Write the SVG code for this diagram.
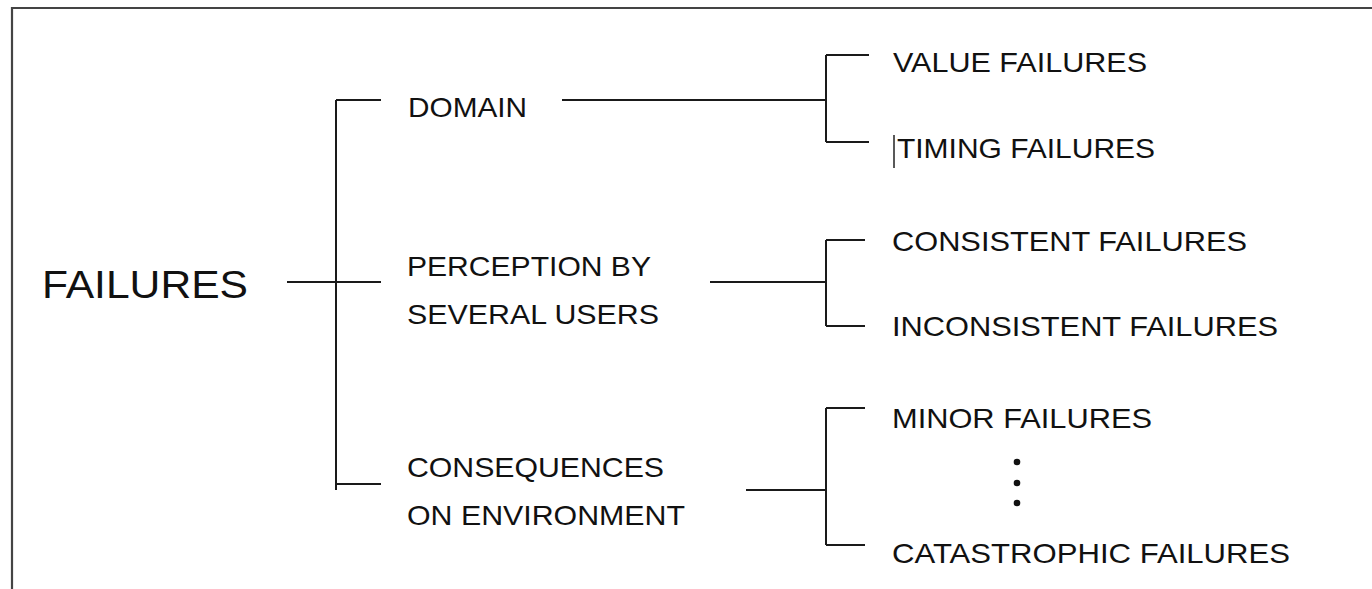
<svg xmlns="http://www.w3.org/2000/svg" width="1372" height="589" viewBox="0 0 1372 589">
<style>
.t{font-family:"Liberation Sans",Arial,sans-serif;font-size:28px;fill:#111}
.big{font-size:38px}
.ln{stroke:#1a1a1a;stroke-width:2;fill:none}
</style>
<rect width="1372" height="589" fill="#fff"/>
<path d="M12,592 V8 H1375" fill="none" stroke="#444" stroke-width="2.2"/>
<g id="connectors" class="ln">
<path d="M287,282 H381 M336,100 V490 M336,100 H381 M336,484 H381"/>
<path d="M562,100 H826 M826,55 V142 M826,55 H869 M826,142 H869"/>
<path d="M710,282 H826 M826,240 V326 M826,240 H865 M826,326 H865"/>
<path d="M746,490 H826 M826,408 V545 M826,408 H865 M826,545 H865"/>
</g>
<g id="n-failures"><text class="t big" x="42" y="298" textLength="206" lengthAdjust="spacingAndGlyphs">FAILURES</text></g>
<g id="n-domain"><text class="t" x="408" y="117" textLength="119" lengthAdjust="spacingAndGlyphs">DOMAIN</text></g>
<g id="n-perception"><text class="t" x="407" y="276" textLength="244" lengthAdjust="spacingAndGlyphs">PERCEPTION BY</text><text class="t" x="407" y="324" textLength="252" lengthAdjust="spacingAndGlyphs">SEVERAL USERS</text></g>
<g id="n-consequences"><text class="t" x="407" y="477" textLength="257" lengthAdjust="spacingAndGlyphs">CONSEQUENCES</text><text class="t" x="407" y="525" textLength="278" lengthAdjust="spacingAndGlyphs">ON ENVIRONMENT</text></g>
<g id="n-value"><text class="t" x="893" y="72" textLength="254" lengthAdjust="spacingAndGlyphs">VALUE FAILURES</text></g>
<g id="n-timing"><text class="t" x="897" y="158" textLength="258" lengthAdjust="spacingAndGlyphs">TIMING FAILURES</text><line x1="894" y1="135" x2="894" y2="168" stroke="#222" stroke-width="1.5"/></g>
<g id="n-consistent"><text class="t" x="892" y="251" textLength="355" lengthAdjust="spacingAndGlyphs">CONSISTENT FAILURES</text></g>
<g id="n-inconsistent"><text class="t" x="892" y="336" textLength="386" lengthAdjust="spacingAndGlyphs">INCONSISTENT FAILURES</text></g>
<g id="n-minor"><text class="t" x="892" y="428" textLength="260" lengthAdjust="spacingAndGlyphs">MINOR FAILURES</text></g>
<g id="n-dots" fill="#111"><circle cx="1017" cy="462" r="3.3"/><circle cx="1017" cy="483" r="3.3"/><circle cx="1017" cy="503" r="3.3"/></g>
<g id="n-catastrophic"><text class="t" x="892" y="563" textLength="398" lengthAdjust="spacingAndGlyphs">CATASTROPHIC FAILURES</text></g>
</svg>
